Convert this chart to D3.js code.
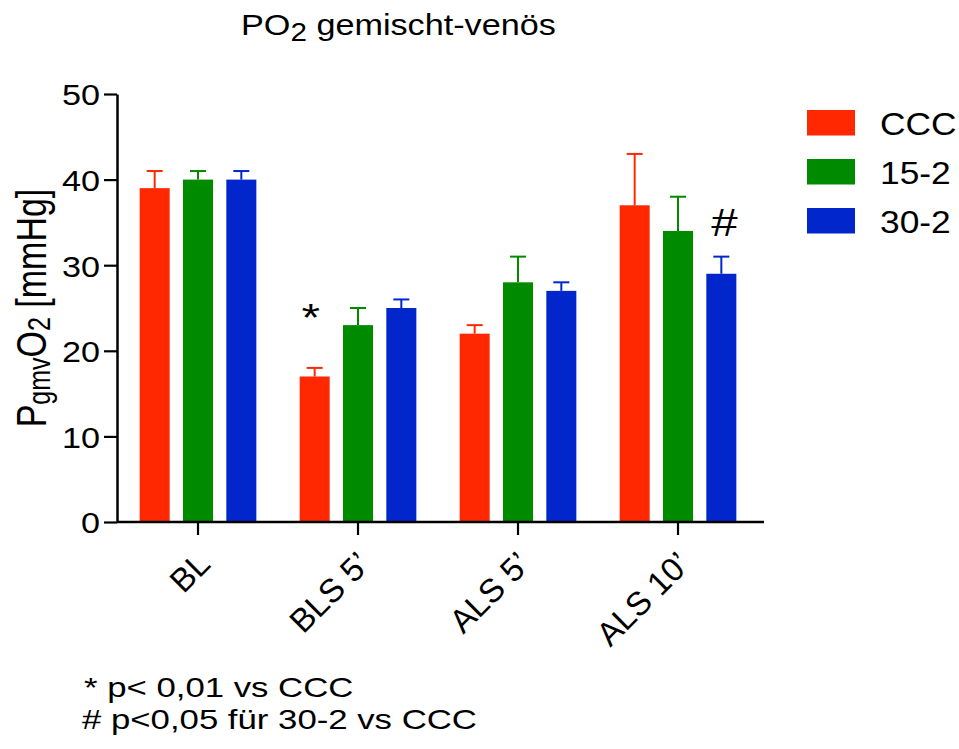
<!DOCTYPE html>
<html>
<head>
<meta charset="utf-8">
<script src="https://cdn.jsdelivr.net/npm/d3@7"></script>
<style>
  html, body { margin: 0; padding: 0; background: #fff; }
  svg { display: block; }
  text { font-family: "Liberation Sans", Arial, sans-serif; fill: #000; }
</style>
</head>
<body>
<svg id="chart" width="959" height="749"></svg>
<script>
// ---- data ----
const categories = ["BL", "BLS 5’", "ALS 5’", "ALS 10’"];
const seriesNames = ["CCC", "15-2", "30-2"];
const seriesColors = ["#ff2800", "#008a00", "#0026cc"];
const valuesCCC = [39, 17, 22, 37];
const errorsCCC = [2, 1, 1, 6];
const values152 = [40, 23, 28, 34];
const errors152 = [1, 2, 3, 4];
const values302 = [40, 25, 27, 29];
const errors302 = [1, 1, 1, 2];
const yTicks = [0, 10, 20, 30, 40, 50];
const annotations = [
  { category: "BLS 5’", series: "CCC", symbol: "*" },
  { category: "ALS 10’", series: "30-2", symbol: "#" }
];
const footnotes = ["* p< 0,01 vs CCC", "# p<0,05 für 30-2 vs CCC"];

const seriesValues = [valuesCCC, values152, values302];
const seriesErrors = [errorsCCC, errors152, errors302];
const rows = [];
categories.forEach((c, i) => {
  seriesNames.forEach((s, j) => {
    rows.push({ category: c, series: s, value: seriesValues[j][i], error: seriesErrors[j][i], color: seriesColors[j] });
  });
});

// ---- layout ----
const SX = 1.14; // horizontal text stretch
const svg = d3.select("#chart");
const axisX = 117, axisY = 522;

const y = d3.scaleLinear().domain([0, 50]).range([522, 94]);
const x0 = d3.scaleBand().domain(categories).range([118, 758]).padding(0);
const x1 = d3.scaleBand().domain(seriesNames).range([-65, 65]).paddingInner(0.307).paddingOuter(0.1535);
const bw = x1.bandwidth();
const cx = (c, s) => x0(c) + x0.bandwidth() / 2 + x1(s) + bw / 2;

// bars
svg.append("g").selectAll("rect").data(rows).join("rect")
  .attr("x", d => cx(d.category, d.series) - bw / 2)
  .attr("y", d => y(d.value))
  .attr("width", bw)
  .attr("height", d => y(0) - y(d.value))
  .attr("fill", d => d.color);

// error bars
const eb = svg.append("g").selectAll("g").data(rows).join("g")
  .attr("stroke", d => d.color).attr("stroke-width", 2);
eb.append("line")
  .attr("x1", d => cx(d.category, d.series)).attr("x2", d => cx(d.category, d.series))
  .attr("y1", d => y(d.value)).attr("y2", d => y(d.value + d.error));
eb.append("line")
  .attr("x1", d => cx(d.category, d.series) - 8).attr("x2", d => cx(d.category, d.series) + 8)
  .attr("y1", d => y(d.value + d.error)).attr("y2", d => y(d.value + d.error));

// y axis
const gy = svg.append("g").attr("transform", `translate(${axisX},0)`)
  .call(d3.axisLeft(y).tickValues(yTicks).tickSize(13).tickSizeOuter(0).tickFormat(d3.format("d")));
gy.select(".domain").attr("stroke", "#000").attr("stroke-width", 2.5);
gy.selectAll(".tick line").attr("stroke", "#000").attr("stroke-width", 2.2);
gy.selectAll(".tick text")
  .attr("x", 0).attr("dy", "0.36em")
  .attr("transform", `translate(-17,0) scale(${SX},1)`)
  .attr("font-size", 30).attr("text-anchor", "end");

// x axis
const gx = svg.append("g").attr("transform", `translate(0,${axisY})`)
  .call(d3.axisBottom(x0).tickSize(13).tickSizeOuter(0));
gx.select(".domain").remove();
gx.append("line").attr("x1", axisX).attr("x2", 764).attr("y1", 0).attr("y2", 0)
  .attr("stroke", "#000").attr("stroke-width", 2.5);
gx.selectAll(".tick line").attr("stroke", "#000").attr("stroke-width", 2.2);
gx.selectAll(".tick text")
  .attr("x", 0).attr("y", 0).attr("dy", 0)
  .attr("text-anchor", "end")
  .attr("font-size", 33)
  .attr("transform", "translate(14,44) rotate(-45)");

// annotations
annotations.forEach(a => {
  const r = rows.find(d => d.category === a.category && d.series === a.series);
  const top = y(r.value + r.error);
  const off = a.symbol === "*" ? 37 : 21;
  const dx = a.symbol === "*" ? -4 : 3;
  svg.append("text")
    .attr("transform", `translate(${cx(r.category, r.series) + dx},${top - off}) scale(1.25,1)`)
    .attr("text-anchor", "middle").attr("font-size", 38)
    .text(a.symbol);
});

// title
const title = svg.append("text")
  .attr("transform", `translate(241,35) scale(${SX},1)`)
  .attr("font-size", 30);
title.append("tspan").text("PO");
title.append("tspan").attr("font-size", 26).attr("dy", 6).text("2");
title.append("tspan").attr("dy", -6).text(" gemischt-venös");

// y axis title
const yt = svg.append("text")
  .attr("transform", `translate(46,308) scale(1.25,1) rotate(-90)`)
  .attr("text-anchor", "middle").attr("font-size", 34);
yt.append("tspan").text("P");
yt.append("tspan").attr("font-size", 25).attr("dy", 3).text("gmv");
yt.append("tspan").attr("dy", -3).text("O");
yt.append("tspan").attr("font-size", 25).attr("dy", 3).text("2");
yt.append("tspan").attr("dy", -3).text(" [mmHg]");

// legend
const lg = svg.append("g");
seriesNames.forEach((s, i) => {
  const ly = 110 + i * 49;
  lg.append("rect").attr("x", 807).attr("y", ly).attr("width", 48).attr("height", 25.5).attr("fill", seriesColors[i]);
  lg.append("text").attr("transform", `translate(880,${ly + 24.5}) scale(${SX},1)`)
    .attr("font-size", 31).text(s);
});

// footnotes
footnotes.forEach((f, i) => {
  svg.append("text")
    .attr("transform", `translate(${i === 0 ? 84 : 82},${697 + i * 32}) scale(1.22,1)`)
    .attr("font-size", 28.5).text(f);
});
</script>
</body>
</html>
